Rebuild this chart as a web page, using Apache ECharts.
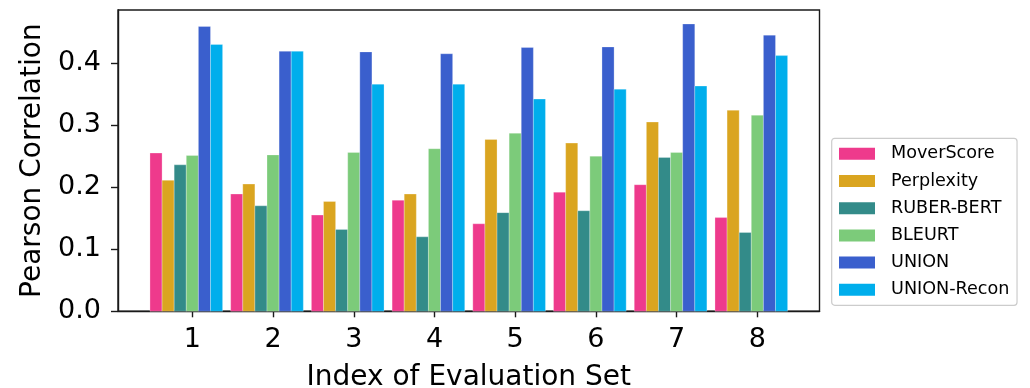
<!DOCTYPE html>
<html>
<head>
<meta charset="utf-8">
<script src="https://cdn.jsdelivr.net/npm/echarts@6/dist/echarts.min.js"></script>
<style>
  html, body { margin: 0; padding: 0; background: #fff; }
  #chart { width: 1030px; height: 388px; }
</style>
</head>
<body>
<div id="chart"></div>
<script>
// ---- data ----
const categories = [1, 2, 3, 4, 5, 6, 7, 8];
const seriesNames = ['MoverScore', 'Perplexity', 'RUBER-BERT', 'BLEURT', 'UNION', 'UNION-Recon'];
const moverScore = [0.255, 0.189, 0.155, 0.179, 0.141, 0.192, 0.204, 0.151];
const perplexity = [0.211, 0.205, 0.177, 0.189, 0.277, 0.271, 0.305, 0.324];
const ruberBert  = [0.236, 0.170, 0.132, 0.120, 0.159, 0.162, 0.248, 0.127];
const bleurt     = [0.251, 0.252, 0.256, 0.262, 0.287, 0.250, 0.256, 0.316];
const union      = [0.459, 0.419, 0.418, 0.415, 0.425, 0.426, 0.463, 0.445];
const unionRecon = [0.430, 0.419, 0.366, 0.366, 0.342, 0.358, 0.363, 0.412];
const yTicks = [0.0, 0.1, 0.2, 0.3, 0.4];

const allValues = [moverScore, perplexity, ruberBert, bleurt, union, unionRecon];
const colors = ['#EE3A8C', '#DAA520', '#338B89', '#7CCB7A', '#3A5FCD', '#00AEEC'];
const barW = 0.15;                 // bar width in x-data units
const offsets = [-3, -2, -1, 0, 1, 2];  // bar centre offsets (in bar widths) from tick

const FONT = 'DejaVu Sans';

const series = seriesNames.map((name, k) => ({
  name: name,
  type: 'custom',
  itemStyle: { color: colors[k] },
  data: categories.map((c, i) => [c + offsets[k] * barW, allValues[k][i]]),
  encode: { x: 0, y: 1 },
  renderItem: function (params, api) {
    const x = api.value(0), y = api.value(1);
    const p1 = api.coord([x - barW / 2, y]);
    const p2 = api.coord([x + barW / 2, 0]);
    return {
      type: 'rect',
      shape: { x: p1[0], y: p1[1], width: p2[0] - p1[0], height: p2[1] - p1[1] },
      style: { fill: colors[k], stroke: 'rgba(255,255,255,0.45)', lineWidth: 0.6 }
    };
  }
}));

const chart = echarts.init(document.getElementById('chart'), null, { renderer: 'canvas' });
chart.setOption({
  animation: false,
  backgroundColor: '#ffffff',
  textStyle: { fontFamily: FONT },
  grid: {
    left: 118, top: 10, right: 210.5, bottom: 76.7,
    outerBoundsMode: 'none', containLabel: false,
    show: true, borderColor: '#1a1a1a', borderWidth: 1.4, backgroundColor: 'transparent'
  },
  xAxis: {
    type: 'value',
    min: 0.079, max: 8.77,
    name: 'Index of Evaluation Set',
    nameLocation: 'middle',
    nameGap: 52,
    nameTextStyle: { fontFamily: FONT, fontSize: 28, color: '#000' },
    axisLine: { show: true, onZero: false, lineStyle: { color: '#1a1a1a', width: 1.4 } },
    axisTick: { show: true, customValues: categories, length: 6, lineStyle: { color: '#1a1a1a', width: 1.4 } },
    axisLabel: { customValues: categories, fontFamily: FONT, fontSize: 27, color: '#000', margin: 15 },
    splitLine: { show: false }
  },
  yAxis: {
    type: 'value',
    min: 0, max: 0.4855,
    name: 'Pearson Correlation',
    nameLocation: 'middle',
    nameGap: 70,
    nameRotate: 90,
    nameTextStyle: { fontFamily: FONT, fontSize: 28, color: '#000' },
    axisLine: { show: true, lineStyle: { color: '#1a1a1a', width: 1.4 } },
    axisTick: { show: true, customValues: yTicks, length: 7, lineStyle: { color: '#1a1a1a', width: 1.4 } },
    axisLabel: {
      customValues: yTicks, fontFamily: FONT, fontSize: 27, color: '#000', margin: 17,
      formatter: v => v.toFixed(1)
    },
    splitLine: { show: false }
  },
  legend: {
    orient: 'vertical',
    left: 831.7, top: 138.3,
    data: seriesNames,
    icon: 'rect',
    itemWidth: 36, itemHeight: 12,
    itemGap: 9.2,
    padding: [6.5, 7.6, 6.5, 7.3],
    borderColor: '#cccccc', borderWidth: 1.2, borderRadius: 3,
    backgroundColor: '#ffffff',
    textStyle: { fontFamily: FONT, fontSize: 17.6, color: '#000', lineHeight: 17, padding: [0, 0, 0, 11] }
  },
  series: series
});
</script>
</body>
</html>
